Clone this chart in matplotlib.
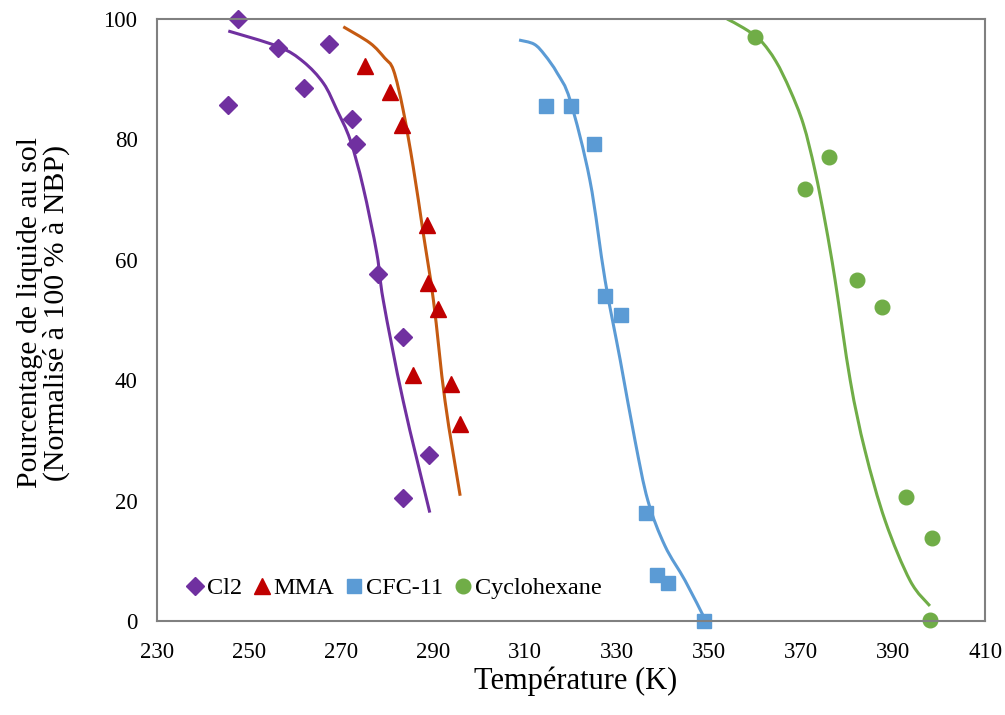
import matplotlib
matplotlib.use('Agg')
import numpy as np
import matplotlib.pyplot as plt
from matplotlib.lines import Line2D
from matplotlib.path import Path
from matplotlib.patches import PathPatch

plt.rcParams['font.family'] = ['Liberation Serif', 'DejaVu Serif']

# Measured points (temperature K, % liquid)
cl2_T = [247.6, 245.4, 256.3, 262.0, 267.4, 272.4, 273.3, 278.0, 283.5, 289.1, 283.5]
cl2_y = [100.0, 85.7, 95.2, 88.5, 95.8, 83.4, 79.2, 57.7, 47.1, 27.5, 20.5]
mma_T = [275.2, 280.7, 283.3, 288.7, 288.9, 291.1, 285.7, 293.9, 295.9]
mma_y = [92.2, 87.9, 82.4, 65.7, 56.2, 51.9, 40.9, 39.3, 32.8]
cfc_T = [314.6, 320.0, 325.0, 327.4, 330.9, 336.3, 338.7, 341.1, 348.9]
cfc_y = [85.5, 85.5, 79.2, 53.9, 50.9, 18.0, 7.7, 6.3, 0.0]
cyc_T = [360.0, 370.9, 376.1, 382.2, 387.6, 392.8, 398.5, 398.0]
cyc_y = [97.0, 71.7, 77.0, 56.7, 52.2, 20.6, 13.8, 0.2]

# Model curves
cl2_fit_T = [245.5, 256.4, 261.8, 266.2, 269.1, 272.0, 274.8, 277.8, 279.2, 283.5, 289.3]
cl2_fit_y = [98.0, 95.4, 92.9, 89.3, 84.9, 79.9, 72.1, 61.0, 53.2, 36.6, 18.0]
mma_fit_T = [270.5, 276.3, 279.5, 281.4, 283.5, 285.7, 287.9, 290.1, 292.6, 295.9]
mma_fit_y = [98.7, 96.0, 93.5, 91.5, 84.9, 75.4, 64.3, 53.2, 36.6, 20.8]
cfc_fit_T = [308.7, 312.0, 314.3, 317.0, 319.8, 324.1, 327.4, 330.7, 333.9, 336.7, 340.4, 344.8, 349.1]
cfc_fit_y = [96.5, 95.8, 94.0, 91.0, 86.5, 73.2, 56.6, 43.3, 30.0, 20.0, 12.5, 6.7, 0.3]
cyc_fit_T = [353.9, 357.5, 361.1, 364.5, 367.6, 370.5, 373.0, 375.3, 377.4, 380.7, 383.9, 388.3, 393.7, 398.0]
cyc_fit_y = [100.0, 98.5, 96.5, 93.0, 88.2, 82.5, 74.9, 66.0, 56.6, 39.9, 28.3, 16.6, 6.7, 2.5]

labels = ['Cl2', 'MMA', 'CFC-11', 'Cyclohexane']


def smooth_path(xs, ys):
    """Bezier path through the points, like a smoothed Excel line"""
    p = np.column_stack([xs, ys])
    ext = np.vstack([p[0], p, p[-1]])
    verts = [p[0]]
    codes = [Path.MOVETO]
    for i in range(len(p) - 1):
        p0, p1, p2, p3 = ext[i], ext[i + 1], ext[i + 2], ext[i + 3]
        verts += [p1 + (p2 - p0) / 6, p2 - (p3 - p1) / 6, p2]
        codes += [Path.CURVE4] * 3
    return Path(verts, codes)


fig = plt.figure(figsize=(10.05, 7.15), dpi=100)
ax = fig.add_axes([0.1562, 0.1315, 0.824, 0.842])

for xs, ys, c in [(cl2_fit_T, cl2_fit_y, '#7030A0'), (mma_fit_T, mma_fit_y, '#C55A11'),
                  (cfc_fit_T, cfc_fit_y, '#5B9BD5'), (cyc_fit_T, cyc_fit_y, '#70AD47')]:
    ax.add_patch(PathPatch(smooth_path(xs, ys), fill=False, edgecolor=c, lw=2.2))

ax.plot(cl2_T, cl2_y, 'D', color='#7030A0', ms=9, ls='none', clip_on=False)
ax.plot(mma_T, mma_y, '^', color='#C00000', ms=11.5, ls='none', clip_on=False)
ax.plot(cfc_T, cfc_y, 's', color='#5B9BD5', ms=10, ls='none', clip_on=False)
ax.plot(cyc_T, cyc_y, 'o', color='#70AD47', ms=10.5, ls='none', clip_on=False)

ax.set_xlim(230, 410)
ax.set_ylim(0, 100)
ax.set_xticks(range(230, 411, 20))
ax.set_yticks(range(0, 101, 20))
ax.tick_params(axis='x', length=0, labelsize=16.5, pad=15)
ax.tick_params(axis='y', length=0, labelsize=16.5, pad=14)
for s in ax.spines.values():
    s.set_color('#808080')
    s.set_linewidth(1.5)

ax.set_xlabel('Température (K)', fontsize=22)
ax.xaxis.set_label_coords(0.505, -0.076)
ax.set_ylabel('Pourcentage de liquide au sol\n(Normalisé à 100 % à NBP)', fontsize=21.5,
              linespacing=1.0)
ax.yaxis.set_label_coords(-0.105, 0.512)

handles = [
    Line2D([], [], marker='D', color='#7030A0', ls='none', ms=9),
    Line2D([], [], marker='^', color='#C00000', ls='none', ms=11),
    Line2D([], [], marker='s', color='#5B9BD5', ls='none', ms=10),
    Line2D([], [], marker='o', color='#70AD47', ls='none', ms=10.5),
]
ax.legend(handles, labels, loc='lower left', bbox_to_anchor=(0.009, 0.0), ncol=4,
          frameon=False, fontsize=17.5, handlelength=0.7, handletextpad=0.15,
          columnspacing=0.45)

fig.savefig('out.png', dpi=100)
